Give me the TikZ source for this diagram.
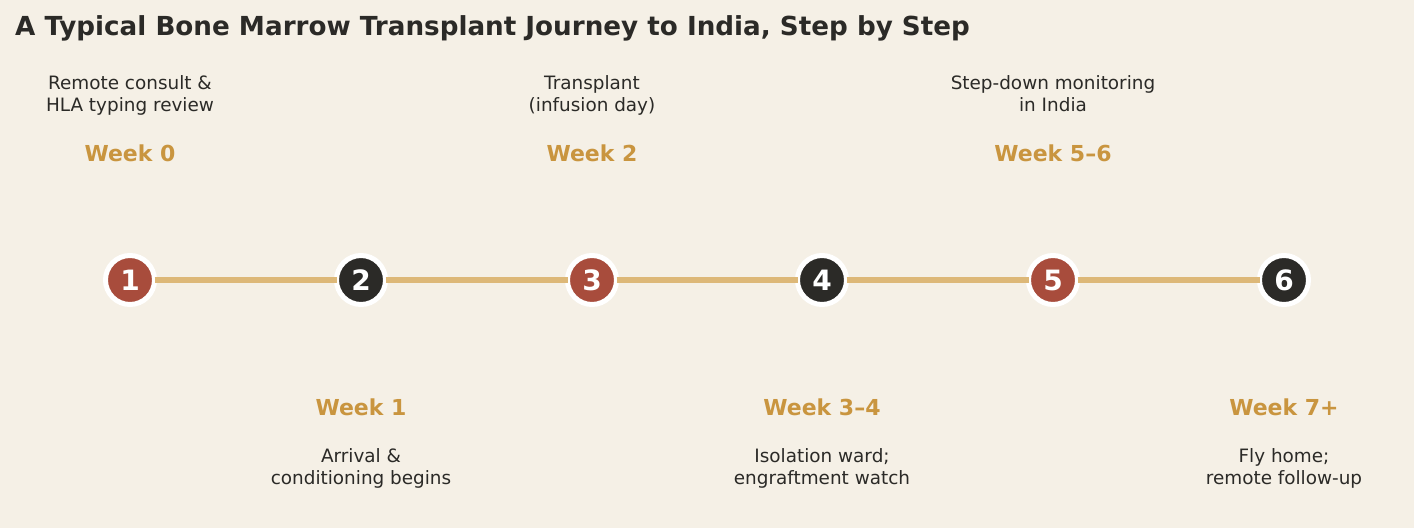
\documentclass[tikz,border=0pt]{standalone}
\usepackage{fontspec}
\setmainfont{DejaVu Sans}
\usepackage{tikz}

\definecolor{bgcol}{HTML}{F5F0E6}
\definecolor{darkcol}{HTML}{2B2A27}
\definecolor{redcol}{HTML}{A84C3C}
\definecolor{goldcol}{HTML}{C9953F}
\definecolor{linecol}{HTML}{DDB878}

\tikzset{
    stepdot/.style={circle, draw=white, line width=5pt, minimum size=49pt, inner sep=0pt, outer sep=0pt,
        text=white, font=\fontsize{28}{28}\selectfont\bfseries},
    weeklabel/.style={text=goldcol, font=\fontsize{22}{22}\selectfont\bfseries},
    desclabel/.style={text=darkcol, align=center, anchor=base, font=\fontsize{18.4}{22}\selectfont},
    track/.style={draw=linecol, line width=6pt}
}

\begin{document}
\begin{tikzpicture}[x=1pt, y=1pt]
        \fill [bgcol] (0,0) rectangle (1414,528);
        \useasboundingbox (0,0) rectangle (1414,528);

        \node [anchor=base west, text=darkcol, font=\fontsize{26.2}{26.2}\selectfont\bfseries, inner sep=0pt] (title) at (15,492) {A Typical Bone Marrow Transplant Journey to India, Step by Step};

        \node [stepdot, fill=redcol] (S1) at (130,248) {1};
        \node [stepdot, fill=darkcol] (S2) at (361,248) {2};
        \node [stepdot, fill=redcol] (S3) at (592,248) {3};
        \node [stepdot, fill=darkcol] (S4) at (822,248) {4};
        \node [stepdot, fill=redcol] (S5) at (1053,248) {5};
        \node [stepdot, fill=darkcol] (S6) at (1284,248) {6};

        \draw [track] (S1) -- (S2);
        \draw [track] (S2) -- (S3);
        \draw [track] (S3) -- (S4);
        \draw [track] (S4) -- (S5);
        \draw [track] (S5) -- (S6);

        \node [desclabel] (D1) at (130,416) {Remote consult \&\\HLA typing review};
        \node [weeklabel] (W1) at (130,375) {Week 0};
        \node [weeklabel] (W2) at (361,121) {Week 1};
        \node [desclabel] (D2) at (361,44) {Arrival \&\\conditioning begins};
        \node [desclabel] (D3) at (592,416) {Transplant\\(infusion day)};
        \node [weeklabel] (W3) at (592,375) {Week 2};
        \node [weeklabel] (W4) at (822,121) {Week 3–4};
        \node [desclabel] (D4) at (822,44) {Isolation ward;\\engraftment watch};
        \node [desclabel] (D5) at (1053,416) {Step-down monitoring\\in India};
        \node [weeklabel] (W5) at (1053,375) {Week 5–6};
        \node [weeklabel] (W6) at (1284,121) {Week 7+};
        \node [desclabel] (D6) at (1284,44) {Fly home;\\remote follow-up};
    \end{tikzpicture}
\end{document}
